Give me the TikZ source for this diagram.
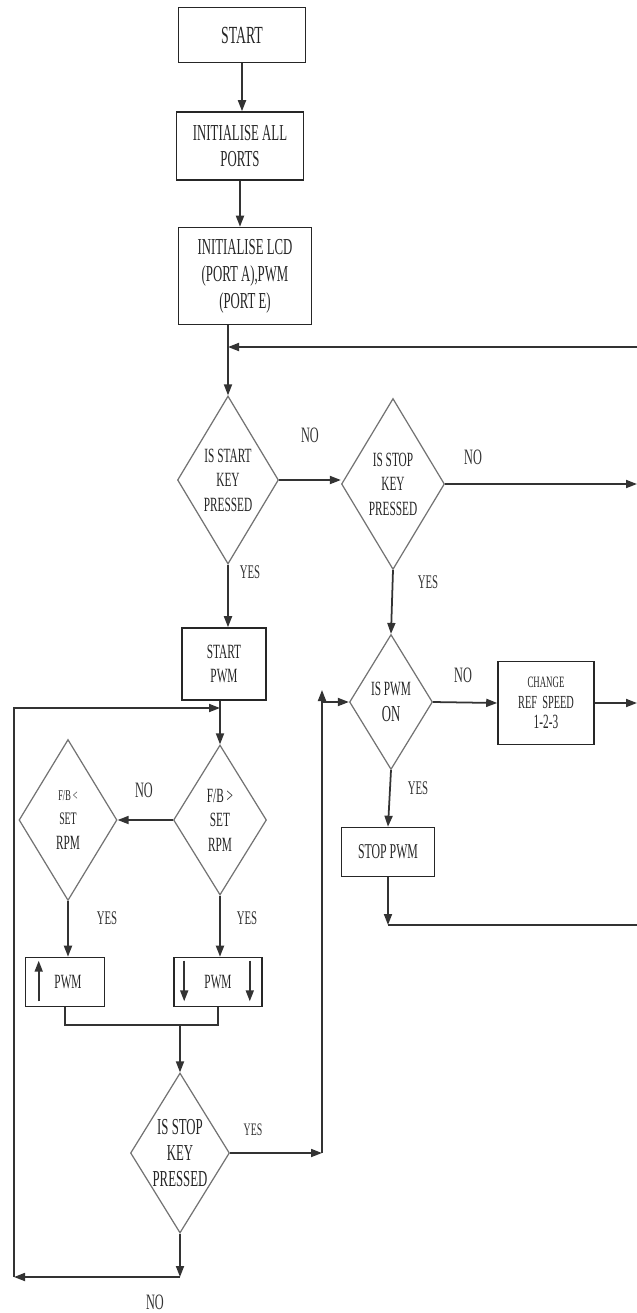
\documentclass[tikz,border=0pt]{standalone}
\usepackage{fontspec}
\setmainfont{Liberation Serif}[FakeStretch=0.56]
\usepackage{tikz}
\usetikzlibrary{shapes.geometric,arrows.meta,calc}

\begin{document}
\begin{tikzpicture}[
    x=0.2mm,y=0.2mm,
    blk/.style  = {draw=black!85, line width=0.9pt, align=center,
                   inner sep=1pt, text=black!85},
    dec/.style  = {diamond, aspect=0.6, draw=black!55, line width=0.7pt,
                   align=center, inner sep=0pt, text=black!85},
    flow/.style = {-{Triangle[length=2.2mm,width=1.6mm]}, black!80, line width=1pt},
    wire/.style = {black!80, line width=1pt},
    ans/.style  = {font=\fontsize{11}{12}\selectfont, text=black!80, inner sep=0pt},
    no/.style   = {font=\fontsize{12.5}{13}\selectfont, text=black!80, inner sep=0pt},
  ]
  \useasboundingbox (0,0) rectangle (637,-1313);

  % set-up column
  \node[blk,minimum width=25.4mm,minimum height=11mm,font=\fontsize{14}{16}\selectfont]
       (start) at (242,-35) {START};
  \node[blk,minimum width=25.4mm,minimum height=13.6mm,font=\fontsize{13}{15}\selectfont]
       (init) at (240,-146) {INITIALISE ALL\\PORTS};
  \node[blk,minimum width=26.6mm,minimum height=19.4mm,font=\fontsize{13}{15.3}\selectfont]
       (lcd) at (245,-276) {INITIALISE LCD\\(PORT A),PWM\\(PORT E)};

  \node[dec,minimum width=20.2mm,minimum height=33.6mm,font=\fontsize{11.5}{14}\selectfont]
       (d1) at (228,-480) {IS START\\KEY\\PRESSED};
  \node[dec,minimum width=20.6mm,minimum height=34.2mm,font=\fontsize{11.5}{14}\selectfont]
       (d2) at (393,-484) {IS STOP\\KEY\\PRESSED};
  \node[blk,minimum width=16.8mm,minimum height=14.4mm,font=\fontsize{11.5}{14}\selectfont]
       (spwm) at (224,-664) {START\\PWM};

  % speed regulation
  \node[dec,minimum width=18.6mm,minimum height=30mm,font=\fontsize{11.5}{14}\selectfont]
       (fb1) at (220,-820) {F/B >\\SET\\RPM};
  \node[dec,minimum width=19.6mm,minimum height=32.2mm,font=\fontsize{11.5}{14}\selectfont]
       (fb2) at (68,-820) {{\fontsize{8.5}{10}\selectfont F/B <}\\{\fontsize{10}{12}\selectfont SET}\\RPM};
  \node[blk,minimum width=15.8mm,minimum height=9.8mm,font=\fontsize{11.5}{14}\selectfont]
       (pup) at (65,-982) {\hspace*{1.2mm}PWM};
  \node[blk,minimum width=17.6mm,minimum height=9.8mm,font=\fontsize{11.5}{14}\selectfont]
       (pdn) at (218,-982) {PWM};
  \node[dec,minimum width=19.8mm,minimum height=32mm,font=\fontsize{13}{15}\selectfont]
       (d3) at (180,-1153) {IS STOP\\KEY\\PRESSED};

  % stop branch
  \node[dec,minimum width=16.6mm,minimum height=27mm,font=\fontsize{11.5}{15}\selectfont]
       (d4) at (391,-702) {IS PWM\\{\fontsize{13}{15}\selectfont ON}};
  \node[blk,minimum width=19.2mm,minimum height=16.6mm,font=\fontsize{11.5}{11.5}\selectfont]
       (chg) at (546,-703) {{\fontsize{9}{11}\selectfont CHANGE}\\{\fontsize{10.5}{11.5}\selectfont REF\ \ SPEED}\\1-2-3};
  \node[blk,minimum width=18.6mm,minimum height=9.8mm,font=\fontsize{12}{14}\selectfont]
       (stp) at (388,-852) {STOP PWM};

  % labels
  \node[no]  (n1) at (310,-435) {NO};
  \node[no]  (n2) at (473,-457) {NO};
  \node[ans] (y1) at (250,-572) {YES};
  \node[ans] (y2) at (428,-582) {YES};
  \node[no]  (n3) at (144,-790) {NO};
  \node[ans] (y3) at (107,-918) {YES};
  \node[ans] (y4) at (247,-918) {YES};
  \node[no]  (n4) at (463,-675) {NO};
  \node[ans] (y6) at (418,-788) {YES};
  \node[ans,font=\fontsize{10}{11}\selectfont] (y5) at (253,-1130) {YES};
  \node[no]  (n5) at (155,-1302) {NO};

  % junctions
  \coordinate (rt1) at (637,-347);
  \coordinate (rt2) at (637,-484);
  \coordinate (rt3) at (637,-703);
  \coordinate (rt4) at (637,-925);
  \coordinate (jn)  at (d1.north |- rt1);
  \coordinate (j4)  at (stp.south |- rt4);
  \coordinate (lp)  at (220,-708);
  \coordinate (mg)  at (180,-1025);
  \coordinate (c1)  at (322,-1153);
  \coordinate (c2)  at (322,-690);
  \coordinate (bl)  at (d3.south |- 0,-1277);
  \coordinate (lb)  at (14,-1277);

  \draw[flow] (start.south) -- (start.south |- init.north);
  \draw[flow] (init.south) -- (init.south |- lcd.north);
  \draw[wire] (lcd.south -| d1.north) -- (jn);
  \draw[flow] (rt1) -- (jn);
  \draw[flow] (jn) -- (d1.north);
  \draw[flow] (d1.east) -- (d1.east -| d2.west);
  \draw[flow] (d2.east |- rt2) -- (rt2);
  \draw[flow] (d1.south) -- (d1.south |- spwm.north);
  \draw[flow] (d2.south) -- (d4.north);

  \draw[flow] (spwm.south -| fb1.north) -- (fb1.north);
  \draw[flow] (fb1.west) -- (fb2.east);
  \draw[flow] (fb2.south) -- (fb2.south |- pup.north);
  \draw[flow] (fb1.south) -- (fb1.south |- pdn.north);
  \draw[flow] ($(pup.south west)+(14,6)$) -- ($(pup.north west)+(14,-4)$);
  \draw[flow] ($(pdn.north west)+(11,-4)$) -- ($(pdn.south west)+(11,6)$);
  \draw[flow] ($(pdn.north east)+(-13,-4)$) -- ($(pdn.south east)+(-13,6)$);
  \draw[wire] (pup.south) -- ++(0,-18) -| (pdn.south);
  \draw[flow] (mg) -- (d3.north);

  \draw[flow] (d3.east) -- (c1);
  \draw[flow] (c1) -- (c2);
  \draw[flow] (c2 |- d4.west) -- (d4.west);
  \draw[flow] (d3.south) -- (bl);
  \draw[flow] (bl) -- (lb);
  \draw[flow] (lb) |- (lp);

  \draw[flow] (d4.east) -- (chg.west);
  \draw[flow] (chg.east) -- (rt3);
  \draw[flow] (d4.south) -- (stp.north);
  \draw[flow] (stp.south) -- (j4);
  \draw[wire] (j4) -- (rt4);

\end{tikzpicture}
\end{document}
